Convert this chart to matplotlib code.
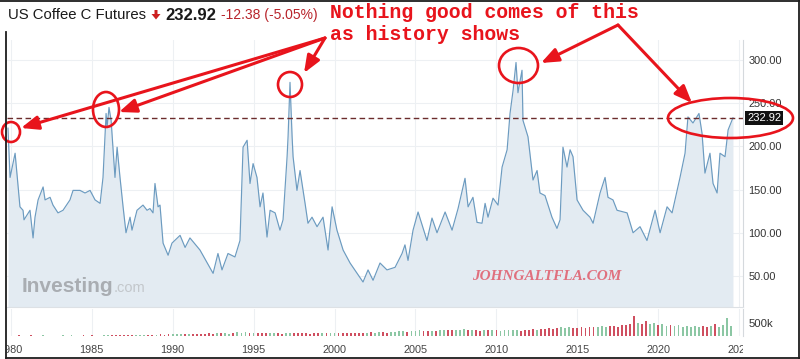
import numpy as np
import matplotlib.pyplot as plt
from matplotlib.patches import Ellipse, Polygon
from matplotlib.transforms import Bbox

# price readings: decimal year and US cents / lb
years = [1979.83, 1979.96, 1980.27, 1980.57, 1980.76, 1980.82, 1981.19, 1981.38, 1981.50, 1981.69,
         1982.00, 1982.12, 1982.43, 1982.61, 1982.92, 1983.23, 1983.66, 1983.85, 1984.28, 1984.59,
         1984.90, 1985.21, 1985.52, 1985.70, 1985.82, 1985.89, 1985.95, 1986.07, 1986.20, 1986.44,
         1986.57, 1986.75, 1986.94, 1987.12, 1987.37, 1987.49, 1987.80, 1988.17, 1988.42, 1988.60,
         1988.79, 1988.91, 1989.10, 1989.22, 1989.41, 1989.72, 1989.96, 1990.46, 1990.77, 1991.07,
         1991.69, 1992.50, 1992.80, 1993.05, 1993.42, 1993.85, 1994.16, 1994.35, 1994.60, 1994.78,
         1994.97, 1995.21, 1995.40, 1995.58, 1995.83, 1996.02, 1996.33, 1996.63, 1996.82, 1997.07,
         1997.13, 1997.25, 1997.38, 1997.44, 1997.68, 1997.87, 1998.18, 1998.36, 1998.61, 1998.92,
         1999.29, 1999.60, 1999.85, 2000.15, 2000.53, 2000.96, 2001.76, 2002.07, 2002.38, 2002.81,
         2003.24, 2003.74, 2004.17, 2004.35, 2004.54, 2004.85, 2005.16, 2005.71, 2006.02, 2006.33,
         2006.83, 2007.26, 2007.63, 2008.06, 2008.25, 2008.55, 2008.80, 2009.11, 2009.30, 2009.48,
         2009.79, 2010.10, 2010.35, 2010.66, 2010.84, 2011.03, 2011.21, 2011.33, 2011.58, 2011.64,
         2011.95, 2012.26, 2012.51, 2012.69, 2013.00, 2013.43, 2013.74, 2013.93, 2014.11, 2014.36,
         2014.55, 2014.73, 2014.98, 2015.35, 2015.78, 2015.97, 2016.40, 2016.71, 2016.89, 2017.20,
         2017.45, 2018.07, 2018.44, 2018.87, 2019.30, 2019.80, 2020.11, 2020.54, 2020.85, 2021.34,
         2021.65, 2021.83, 2022.14, 2022.51, 2022.70, 2022.88, 2023.19, 2023.38, 2023.63, 2023.81,
         2024.12, 2024.31, 2024.61]
prices = [221, 164, 192, 130, 126, 115, 126, 94, 118, 138,
          153, 138, 141, 132, 123, 126, 138, 149, 149, 146,
          149, 138, 134, 164, 211, 238, 222, 245, 230, 164,
          199, 164, 130, 100, 118, 103, 126, 132, 126, 128,
          123, 157, 130, 132, 88, 74, 88, 97, 83, 94,
          80, 53, 76, 57, 76, 72, 91, 199, 207, 157,
          180, 164, 130, 146, 95, 126, 123, 103, 115, 188,
          211, 274, 211, 188, 149, 172, 134, 111, 118, 107,
          118, 80, 130, 103, 80, 65, 43, 57, 45, 65,
          57, 60, 76, 86, 68, 103, 124, 91, 117, 100,
          124, 103, 128, 163, 130, 141, 112, 111, 134, 118,
          140, 132, 176, 196, 238, 265, 297, 262, 288, 230,
          211, 161, 172, 146, 143, 118, 105, 115, 199, 176,
          196, 188, 138, 126, 118, 111, 146, 164, 141, 138,
          126, 123, 100, 107, 91, 126, 100, 130, 123, 164,
          192, 234, 227, 238, 215, 169, 192, 157, 146, 192,
          188, 219, 233]
last_price = 232.92

# quarterly volume (thousands of contracts), 1980 Q1 onwards
vol_start = 1980.0
vol_k = [15, 0, 20, 10,   10, 25, 0, 15,   20, 10, 15, 0,   15, 20, 10, 25,
         0, 15, 20, 10,   25, 15, 10, 20,   40, 30, 45, 35,   40, 50, 35, 45,
         45, 40, 55, 50,   55, 60, 50, 65,   60, 70, 65, 75,   80, 70, 90, 85,
         90, 100, 85, 110,  100, 115, 95, 120,  150, 130, 160, 120,  110, 125, 105, 115,
         100, 120, 110, 95,  130, 120, 105, 115,  100, 110, 95, 120,  115, 100, 125, 110,
         110, 120, 100, 115,  120, 110, 125, 115,  125, 135, 120, 140,  145, 130, 150, 160,
         180, 200, 170, 210,  190, 220, 200, 180,  210, 190, 230, 220,  240, 215, 250, 230,
         260, 240, 230, 250,  210, 230, 220, 240,  230, 210, 240, 250,  220, 240, 200, 230,
         240, 260, 250, 270,  280, 300, 270, 310,  360, 300, 340, 320,  320, 350, 300, 340,
         330, 360, 380, 340,  370, 400, 360, 420,  430, 460, 780, 520,  480, 560, 450, 500,
         420, 460, 400, 440,  380, 420, 360, 400,  360, 390, 330, 370,  350, 400, 450, 360,
         420, 700, 380]

year_ticks = list(range(1980, 2030, 5))
price_ticks = [50, 100, 150, 200, 250, 300]

RED = '#e8141c'
W, H = 800, 359

plt.rcParams['font.family'] = ['Liberation Sans', 'DejaVu Sans']


def px_box(x0, y0, x1, y1):
    return [x0 / W, 1 - y1 / H, (x1 - x0) / W, (y1 - y0) / H]


fig = plt.figure(figsize=(W / 100, H / 100), dpi=100)
ax = fig.add_axes(px_box(7, 40, 743, 307))
axv = fig.add_axes(px_box(7, 309, 743, 336), sharex=ax)

# price panel
ax.fill_between(years, prices, 0, color='#e3ebf2', lw=0)
ax.plot(years, prices, color='#6c9bc0', lw=0.85)
ax.axhline(last_price, color='#6b2c2c', lw=1.0, dashes=(4, 2.5))
ax.set_xlim(1979.77, 2025.23)
ax.set_ylim(14.1, 323)
ax.set_xticks(year_ticks)
ax.set_yticks(price_ticks)
ax.set_yticklabels([f'{v:.2f}' for v in price_ticks])
ax.yaxis.tick_right()
ax.tick_params(axis='y', length=0, pad=4, labelsize=7.9, labelcolor='#333333')
ax.tick_params(axis='x', length=0, labelbottom=False)
ax.grid(color='#edf0f3', lw=0.8)
ax.set_axisbelow(True)
for s in ['top', 'left']:
    ax.spines[s].set_visible(False)
ax.spines['right'].set_color('#d5d9dd')
ax.spines['bottom'].set_color('#dde1e5')

ax.annotate(f'{last_price:.2f}', xy=(1, last_price), xycoords=ax.get_yaxis_transform(),
            xytext=(3.0, 0), textcoords='offset points', ha='left', va='center',
            fontsize=8, color='white',
            bbox=dict(boxstyle='square,pad=0.18', fc='#111111', ec='none'))

# volume panel
vol_t = vol_start + 0.25 * np.arange(len(vol_k))
p_now = np.interp(vol_t, years, prices)
p_prev = np.interp(vol_t - 0.25, years, prices)
vol_cols = ['#8cc7a4' if a >= b else '#cf4f60' for a, b in zip(p_now, p_prev)]
axv.bar(vol_t, vol_k, width=0.11, color=vol_cols, lw=0)
axv.set_ylim(0, 1040)
axv.set_yticks([500])
axv.set_yticklabels(['500k'])
axv.yaxis.tick_right()
axv.tick_params(axis='y', length=0, pad=4, labelsize=8.2, labelcolor='#333333')
axv.tick_params(axis='x', length=0, pad=6.5, labelsize=7.8, labelcolor='#444444')
axv.grid(axis='x', color='#edf0f3', lw=0.8)
axv.set_axisbelow(True)
for s in ['top', 'left', 'bottom']:
    axv.spines[s].set_visible(False)
axv.spines['right'].set_color('#d5d9dd')

# year labels get cut at the plot edges, like the screenshot
fig.canvas.draw()
clip = Bbox([[7, 0], [743, H]])
for lab in axv.get_xticklabels():
    lab.set_clip_box(clip)
    lab.set_clip_on(True)

# watermarks
fig.text(21.5 / W, 1 - 286 / H, 'Investing', fontsize=15, fontweight='bold',
         color='#a9adb2', ha='left', va='center')
fig.text(114 / W, 1 - 288 / H, '.com', fontsize=10.5, color='#c3c7cb', ha='left', va='center')
fig.text(472 / W, 1 - 277 / H, 'JOHNGALTFLA.COM', fontsize=11, family='Liberation Serif',
         fontweight='bold', fontstyle='italic', color='#e0707e', ha='left', va='center')

# overlay for header, frame and the hand-drawn annotations (pixel coordinates)
ov = fig.add_axes([0, 0, 1, 1], zorder=10)
ov.set_xlim(0, W)
ov.set_ylim(H, 0)
ov.axis('off')
ov.patch.set_alpha(0)

ov.plot([0, W], [0.7, 0.7], color='#1e1e1e', lw=1.3)
ov.plot([W - 0.7, W - 0.7], [0, H], color='#1e1e1e', lw=1.3)
ov.plot([6.3, W], [357.5, 357.5], color='#1e1e1e', lw=1.3)
ov.plot([6.3, 6.3], [32, 357.5], color='#1e1e1e', lw=1.3)

ov.text(8, 15, 'US Coffee C Futures', fontsize=10.7, color='#1a1a1a', ha='left', va='center')
ov.add_patch(Polygon([[154.5, 10], [157.5, 10], [157.5, 14], [160.5, 14], [156, 19.5],
                      [151.5, 14], [154.5, 14]], closed=True, color='#cc1f1f', lw=0))
ov.text(165.5, 15, f'{last_price:.2f}', fontsize=12, fontweight='bold', color='#1a1a1a',
        ha='left', va='center')
ov.text(221, 15.5, '-12.38 (-5.05%)', fontsize=10, color='#b8232a', ha='left', va='center')

ov.text(330, 18.3, 'Nothing good comes of this', family='Liberation Mono', fontweight='bold',
        fontsize=14.3, color=RED, ha='left', va='baseline')
ov.text(330, 39.5, 'as history shows', family='Liberation Mono', fontweight='bold',
        fontsize=14.3, color=RED, ha='left', va='baseline')

for (cx, cy, w, h) in [(11, 132, 18, 20), (106, 109.5, 26, 35), (290, 84.5, 24, 25),
                       (518.5, 65.5, 39, 35), (730.5, 118, 125, 40)]:
    ov.add_patch(Ellipse((cx, cy), w, h, fill=False, ec=RED, lw=1.9))

for (x0, y0, x1, y1) in [(325, 38, 21, 128), (325, 38, 119, 112), (325, 38, 304, 73),
                         (618, 25, 541, 63), (618, 25, 692, 103)]:
    ov.annotate('', xy=(x1, y1), xytext=(x0, y0),
                arrowprops=dict(arrowstyle='-|>,head_length=0.8,head_width=0.32',
                                mutation_scale=13, color=RED, lw=2.2,
                                shrinkA=0, shrinkB=0))

fig.savefig('out.png', dpi=100)
